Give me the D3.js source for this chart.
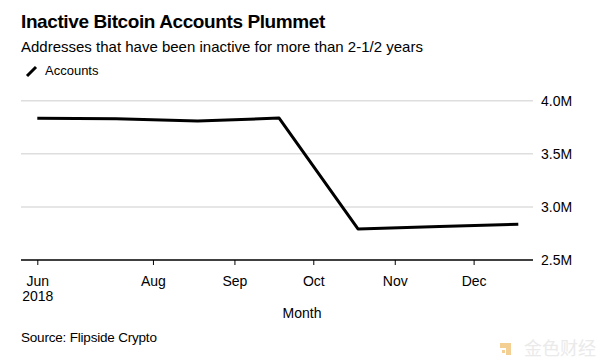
<!DOCTYPE html>
<html>
<head>
<meta charset="utf-8">
<script src="https://cdn.jsdelivr.net/npm/d3@7"></script>
<style>
  body { margin: 0; background: #fff; }
  svg { display: block; font-family: "Liberation Sans", Arial, sans-serif; }
  .grid line { stroke: #dedede; stroke-width: 1.5; }
  .tick text { fill: #000; }
</style>
</head>
<body>
<div id="chart"></div>
<script>
// chart values
var months = ["2018-06-18", "2018-07-18", "2018-08-18", "2018-09-18", "2018-10-18", "2018-11-18", "2018-12-18"];
var accounts = [3.834, 3.830, 3.808, 3.836, 2.792, 2.815, 2.836]; // millions
var yTicks = [2.5, 3.0, 3.5, 4.0];
var xTicks = ["2018-06-18", "2018-08-01", "2018-09-01", "2018-10-01", "2018-11-01", "2018-12-01"];
var xTickLabels = ["Jun", "Aug", "Sep", "Oct", "Nov", "Dec"];

var width = 600, height = 361;
var parse = d3.timeParse("%Y-%m-%d");

var data = months.map(function(m, i) {
    return {date: parse(m), value: accounts[i]};
});

var svg = d3.select("#chart").append("svg")
    .attr("width", width)
    .attr("height", height);

var plotLeft = 21, plotRight = 533;

var x = d3.scaleTime()
    .domain([parse(months[0]), parse(months[months.length - 1])])
    .range([37.3, 518.3]);

var y = d3.scaleLinear()
    .domain([2.5, 4.0])
    .range([260, 100.7]);

// title block
svg.append("text")
    .attr("x", 21).attr("y", 28)
    .attr("font-size", 19).attr("font-weight", "bold")
    .attr("letter-spacing", -0.4)
    .text("Inactive Bitcoin Accounts Plummet");

svg.append("text")
    .attr("x", 21).attr("y", 52)
    .attr("font-size", 15)
    .text("Addresses that have been inactive for more than 2-1/2 years");

// legend
svg.append("line")
    .attr("x1", 27).attr("y1", 76)
    .attr("x2", 36).attr("y2", 67)
    .attr("stroke", "#000").attr("stroke-width", 3);

svg.append("text")
    .attr("x", 45).attr("y", 75)
    .attr("font-size", 13)
    .text("Accounts");

// horizontal gridlines
svg.append("g")
    .attr("class", "grid")
    .selectAll("line")
    .data(yTicks.filter(function(d) { return d > 2.5; }))
    .enter()
    .append("line")
    .attr("x1", plotLeft).attr("x2", plotRight)
    .attr("y1", function(d) { return y(d); })
    .attr("y2", function(d) { return y(d); });

// y labels on the right
svg.append("g")
    .selectAll("text")
    .data(yTicks)
    .enter()
    .append("text")
    .attr("x", 541)
    .attr("y", function(d) { return y(d); })
    .attr("dy", "0.35em")
    .attr("font-size", 14)
    .text(function(d) { return d.toFixed(1) + "M"; });

// x axis
var xAxis = d3.axisBottom(x)
    .tickValues(xTicks.map(parse))
    .tickSize(5)
    .tickPadding(11)
    .tickFormat(function(d, i) { return xTickLabels[i]; });

var gx = svg.append("g")
    .attr("transform", "translate(0," + y(2.5) + ")")
    .call(xAxis);

gx.select(".domain").remove();
gx.selectAll(".tick line").attr("stroke", "#000").attr("stroke-width", 1);
gx.selectAll(".tick text")
    .attr("font-size", 14)
    .attr("font-family", "Liberation Sans, Arial, sans-serif");

gx.select(".tick text")
    .append("tspan")
    .attr("x", 0).attr("dy", "1.1em")
    .text("2018");

svg.append("line")
    .attr("x1", plotLeft).attr("x2", plotRight)
    .attr("y1", y(2.5)).attr("y2", y(2.5))
    .attr("stroke", "#000").attr("stroke-width", 1.5);

svg.append("text")
    .attr("x", 302).attr("y", 318)
    .attr("text-anchor", "middle")
    .attr("font-size", 14)
    .text("Month");

// data line
var line = d3.line()
    .x(function(d) { return x(d.date); })
    .y(function(d) { return y(d.value); });

svg.append("path")
    .datum(data)
    .attr("fill", "none")
    .attr("stroke", "#000")
    .attr("stroke-width", 3)
    .attr("stroke-linejoin", "round")
    .attr("d", line);

// source
svg.append("text")
    .attr("x", 21).attr("y", 342)
    .attr("font-size", 13.5)
    .attr("letter-spacing", -0.2)
    .text("Source: Flipside Crypto");

// watermark
var wm = svg.append("g").attr("opacity", 0.75);
wm.append("rect").attr("x", 500).attr("y", 343).attr("width", 11).attr("height", 12).attr("fill", "#f0c070");
wm.append("rect").attr("x", 500).attr("y", 348).attr("width", 6).attr("height", 7).attr("fill", "#fff");
wm.append("rect").attr("x", 502).attr("y", 350).attr("width", 3).attr("height", 3).attr("fill", "#f0c070");
wm.append("text")
    .attr("x", 524).attr("y", 355)
    .attr("font-size", 18)
    .attr("font-family", "Noto Sans CJK SC")
    .attr("fill", "#e4e4e4")
    .text("金色财经");
</script>
</body>
</html>
